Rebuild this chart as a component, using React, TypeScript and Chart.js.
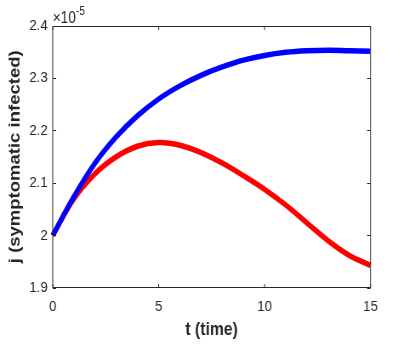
import { useEffect, useRef } from 'react';
import { Chart, registerables } from 'chart.js';

Chart.register(...registerables);

// ---- data (y values in units of 1e-5) ----
const timeValues = [0, 1, 2, 3, 4, 5, 6, 7, 8, 9, 10, 11, 12, 13, 14, 15];
const blueSeries = [2.0, 2.074, 2.138, 2.188, 2.228, 2.26, 2.285, 2.305, 2.321, 2.334, 2.343, 2.349, 2.352, 2.353, 2.352, 2.351];
const redSeries = [2.0, 2.07, 2.118, 2.15, 2.17, 2.177, 2.172, 2.158, 2.138, 2.114, 2.088, 2.058, 2.024, 1.99, 1.962, 1.943];
const xTicks = [0, 5, 10, 15];
const yTicks = [1.9, 2.0, 2.1, 2.2, 2.3, 2.4];
const xTitle = 't (time)';
const yTitle = 'j (symptomatic infected)';
const exponentBase = '×10';
const exponentPower = '-5';

// ---- layout (logical canvas is wider, then squeezed horizontally) ----
const CSS_W = 409;
const H = 354;
const SX = 0.85;
const W = Math.round(CSS_W / SX);
const FONT = '"Liberation Sans", Arial, Helvetica, sans-serif';
const TEXT_COLOR = '#262626';
const AXIS_COLOR = '#262626';

const axesPlugin = {
  id: 'matlabAxes',
  afterDatasetsDraw(chart: any) {
    const { ctx, chartArea, scales } = chart;
    const { left, right, top, bottom } = chartArea;
    const x = scales.x;
    const y = scales.y;
    ctx.save();
    ctx.strokeStyle = AXIS_COLOR;
    ctx.lineWidth = 1;
    const t = Math.round(top) + 0.5;
    const b = Math.round(bottom) - 0.5;
    ctx.beginPath();
    ctx.moveTo(left, t);
    ctx.lineTo(right, t);
    ctx.lineTo(right, b);
    ctx.lineTo(left, b);
    ctx.closePath();
    const tlV = 3.5;
    const tlH = 4;
    xTicks.forEach((v) => {
      const px = x.getPixelForValue(v);
      ctx.moveTo(px, b);
      ctx.lineTo(px, b - tlV);
      ctx.moveTo(px, t);
      ctx.lineTo(px, t + tlV);
    });
    yTicks.forEach((v) => {
      const py = Math.round(y.getPixelForValue(v)) + 0.5;
      ctx.moveTo(left, py);
      ctx.lineTo(left + tlH, py);
      ctx.moveTo(right, py);
      ctx.lineTo(right - tlH, py);
    });
    ctx.stroke();

    ctx.fillStyle = TEXT_COLOR;
    ctx.textAlign = 'left';
    ctx.textBaseline = 'alphabetic';
    ctx.font = `16px ${FONT}`;
    ctx.fillText(exponentBase, left, top - 3);
    const w = ctx.measureText(exponentBase).width;
    ctx.font = `12px ${FONT}`;
    ctx.fillText(exponentPower, left + w, top - 11);
    ctx.restore();
  },
};

export default function App() {
  const ref = useRef<HTMLCanvasElement>(null);

  useEffect(() => {
    const canvas = ref.current;
    if (!canvas) return;
    const toPoints = (vals: number[]) => timeValues.map((tv, i) => ({ x: tv, y: vals[i] }));
    const chart = new Chart(canvas, {
      type: 'line',
      data: {
        datasets: [
          {
            label: 'blue',
            data: toPoints(blueSeries),
            borderColor: '#0000ff',
            borderWidth: 5.5,
            pointRadius: 0,
            tension: 0.4,
            fill: false,
            clip: false as any,
            order: 0,
          },
          {
            label: 'red',
            data: toPoints(redSeries),
            borderColor: '#ff0000',
            borderWidth: 5.5,
            pointRadius: 0,
            tension: 0.4,
            fill: false,
            clip: false as any,
            order: 1,
          },
        ],
      },
      options: {
        responsive: false,
        animation: false,
        devicePixelRatio: 1,
        events: [],
        layout: { padding: { left: 6.5, top: 25.5, right: 45.3, bottom: 12.9 } },
        plugins: { legend: { display: false }, tooltip: { enabled: false }, title: { display: false } },
        scales: {
          x: {
            type: 'linear',
            min: 0,
            max: 15,
            grid: { display: false, drawTicks: false },
            border: { display: false },
            afterBuildTicks: (s: any) => { s.ticks = xTicks.map((v) => ({ value: v })); },
            afterFit: (s: any) => { s.height = 53.1; },
            ticks: {
              autoSkip: false,
              maxRotation: 0,
              padding: 9,
              color: TEXT_COLOR,
              font: { family: FONT, size: 15.5 },
              callback: (v: any) => String(v),
            },
            title: {
              display: true,
              text: xTitle,
              color: TEXT_COLOR,
              padding: 0,
              font: { family: FONT, size: 18.5, weight: 'bold', lineHeight: 1.2 },
            },
          },
          y: {
            type: 'linear',
            min: 1.9,
            max: 2.4,
            grid: { display: false, drawTicks: false },
            border: { display: false },
            afterBuildTicks: (s: any) => { s.ticks = yTicks.map((v) => ({ value: v })); },
            afterFit: (s: any) => { s.width = 55.5; },
            ticks: {
              autoSkip: false,
              padding: 6,
              color: TEXT_COLOR,
              font: { family: FONT, size: 15.5 },
              callback: (v: any) => String(+Number(v).toFixed(1)),
            },
            title: {
              display: true,
              text: yTitle,
              color: TEXT_COLOR,
              padding: 0,
              font: { family: FONT, size: 18.5, weight: 'bold', lineHeight: 1.2 },
            },
          },
        },
      },
      plugins: [axesPlugin],
    } as any);
    return () => chart.destroy();
  }, []);

  return (
    <div style={{ position: 'fixed', left: 0, top: 0, width: CSS_W, height: H, background: '#fff' }}>
      <canvas
        ref={ref}
        width={W}
        height={H}
        style={{ width: `${CSS_W}px`, height: `${H}px`, display: 'block' }}
      />
    </div>
  );
}
